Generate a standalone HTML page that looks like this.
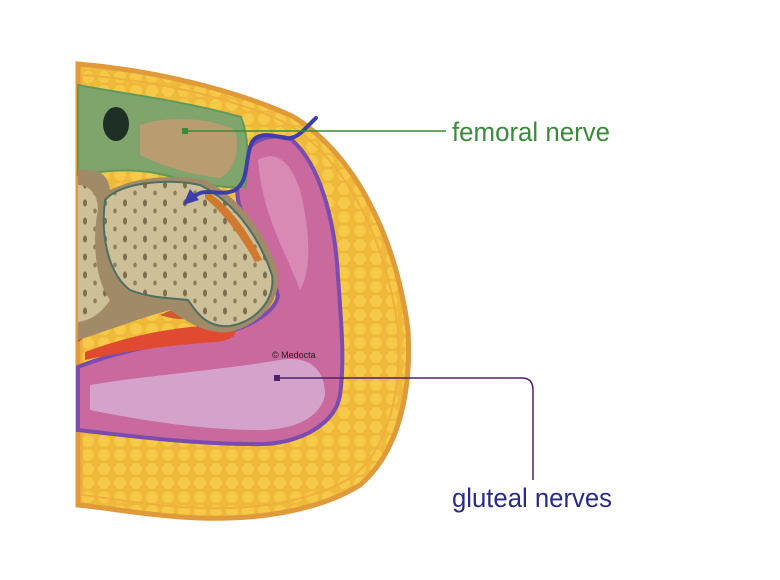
<!DOCTYPE html>
<html><head><meta charset="utf-8"><style>
html,body{margin:0;padding:0;background:#fff;width:780px;height:580px;overflow:hidden}
svg{display:block}
text{font-family:"Liberation Sans",sans-serif;font-weight:300}
</style></head><body>
<svg width="780" height="580" viewBox="0 0 780 580">
<defs>
<pattern id="fat" width="16" height="14" patternUnits="userSpaceOnUse">
<rect width="16" height="14" fill="#efb93a"/>
<circle cx="8" cy="7" r="6" fill="#f6ca48"/>
</pattern>
<pattern id="pores" width="20" height="18" patternUnits="userSpaceOnUse">
<rect width="20" height="18" fill="#cdbf98"/>
<ellipse cx="5" cy="5" rx="2" ry="3.5" fill="#7a6e4e"/>
<ellipse cx="15" cy="13" rx="1.8" ry="2.5" fill="#8a7e5c"/>
</pattern>
</defs>
<!-- outer fat -->
<path d="M78,64 C150,70 230,88 292,116 C350,150 395,230 408,330 C412,400 395,455 360,485 C320,510 260,520 200,518 C150,516 110,508 78,505 Z" fill="url(#fat)" stroke="#e09a3a" stroke-width="5"/>
<path d="M82,75 C150,80 230,96 288,124 C343,158 386,236 398,330 C402,398 386,450 352,477 C315,500 260,510 200,508 C150,506 110,498 82,495 Z" fill="none" stroke="#f0b040" stroke-width="2"/>
<!-- purple gluteal muscle -->
<path d="M78,367 C120,350 180,340 215,335 C250,328 275,312 278,296 C270,260 245,230 238,200 C235,175 240,155 252,145 C262,136 280,134 292,140 C320,165 335,220 338,277 C341,320 345,360 340,395 C335,425 300,442 265,444 C200,445 130,436 78,430 Z" fill="#c9699e" stroke="#7a4cb0" stroke-width="4"/>
<path d="M90,385 C150,375 220,370 280,360 C310,355 325,370 325,395 C320,420 290,430 260,430 C200,430 140,420 90,410 Z" fill="#d8b0d6" opacity="0.8"/>
<path d="M258,160 C275,150 290,160 300,190 C310,230 312,270 300,290 C285,250 262,215 258,160 Z" fill="#d88ab4"/>
<!-- green region -->
<path d="M78,85 C130,95 180,100 241,117 C250,140 248,170 245,187 C220,190 180,178 150,172 C120,168 100,172 78,175 Z" fill="#7fa56c" stroke="#5f9a5a" stroke-width="2"/>
<ellipse cx="116" cy="124" rx="13" ry="17" fill="#1e3026"/>
<path d="M140,125 C170,115 210,118 235,130 C240,150 235,170 220,178 C190,175 160,165 140,155 Z" fill="#c89a70" opacity="0.8"/>
<!-- red muscle -->
<path d="M78,210 C92,220 100,270 98,300 C95,320 90,335 78,342 Z" fill="#e0452e"/>
<path d="M85,352 C130,335 180,325 230,325 C240,332 235,340 215,342 C170,345 120,352 85,360 Z" fill="#e04a30"/>
<path d="M160,315 C190,300 220,300 230,312 C200,320 180,322 160,315 Z" fill="#d05a30"/>
<!-- bone -->
<path d="M78,170 C100,168 108,175 110,190 C140,175 180,175 205,180 C245,200 268,240 278,272 C282,300 260,325 230,332 C205,335 185,320 170,310 C140,318 110,330 78,340 Z" fill="#a08a68"/>
<path d="M105,200 C120,182 170,178 200,185 C240,205 262,245 272,275 C276,300 255,322 230,326 C205,328 195,310 188,300 C170,298 150,298 130,290 C110,275 100,240 105,200 Z" fill="url(#pores)" stroke="#4e7062" stroke-width="2"/>
<path d="M78,185 C90,185 98,195 98,210 C92,240 95,280 110,300 C100,315 90,320 78,322 Z" fill="url(#pores)"/>
<path d="M205,190 C230,205 250,235 262,260 L255,262 C240,235 225,215 205,198 Z" fill="#d07a30"/>
<!-- copyright -->
<text x="272" y="358" font-size="9" fill="#222" style="font-weight:400">© Medocta</text>
<!-- blue nerve -->
<path d="M316,118 C305,128 298,140 285,138 C272,135 258,132 252,142 C244,160 250,180 235,190 C222,197 205,187 195,196" fill="none" stroke="#3e3ea8" stroke-width="4" stroke-linecap="round"/>
<polygon points="183,205 190,189 199,200" fill="#3e3ea8"/>
<!-- femoral label -->
<line x1="185" y1="131" x2="446" y2="131" stroke="#3a8a3a" stroke-width="1.5"/>
<rect x="182" y="128" width="6" height="6" fill="#3a8a3a"/>
<text x="452" y="141" font-size="27" fill="#3b8a3b" textLength="158" lengthAdjust="spacingAndGlyphs">femoral nerve</text>
<!-- gluteal label -->
<rect x="274" y="375" width="6" height="6" fill="#50206a"/>
<path d="M278,378 L522,378 Q533,378 533,390 L533,480" fill="none" stroke="#50206a" stroke-width="1.5"/>
<text x="452" y="507" font-size="27" fill="#2a2a8a" textLength="160" lengthAdjust="spacingAndGlyphs">gluteal nerves</text>
</svg>
</body></html>
